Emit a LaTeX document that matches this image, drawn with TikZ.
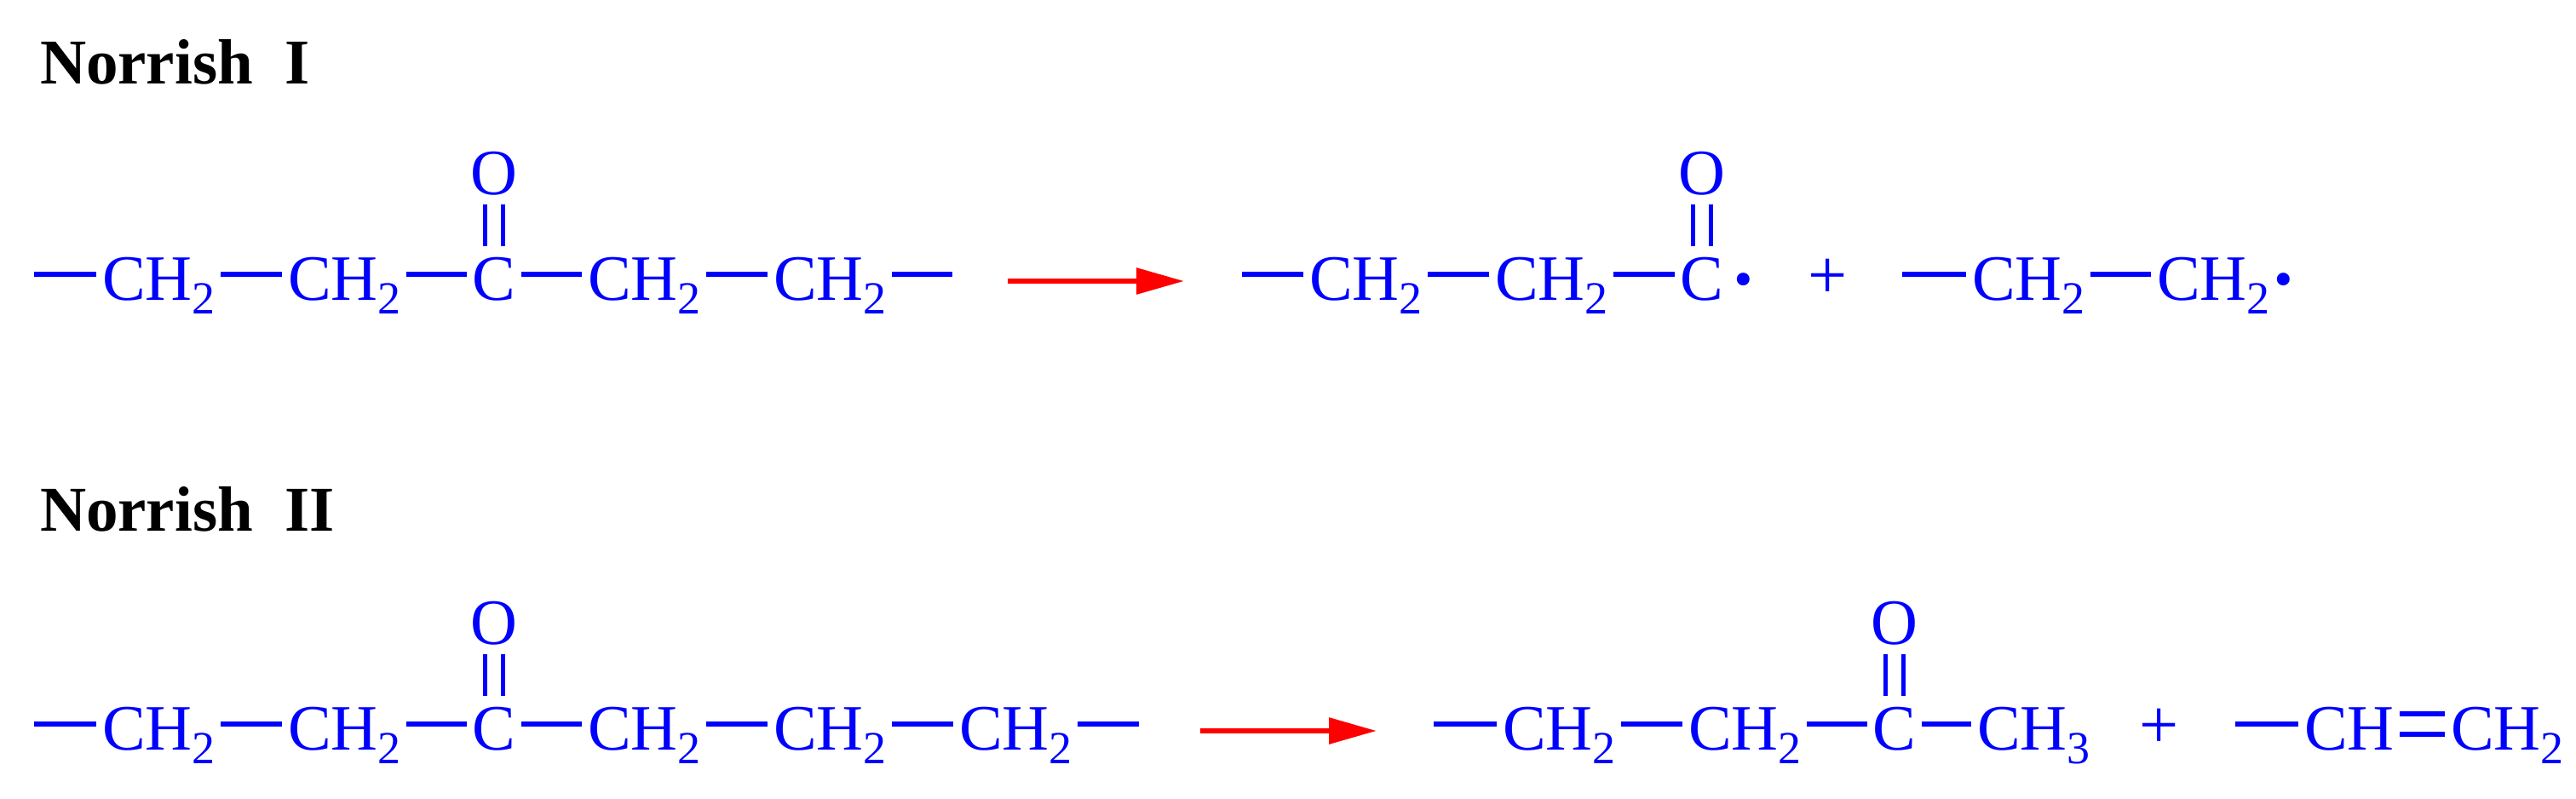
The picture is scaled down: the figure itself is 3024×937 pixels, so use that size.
\documentclass[tikz,border=0pt]{standalone}
\usepackage{fontspec}
\setmainfont{Liberation Serif}
\usetikzlibrary{arrows.meta}
\definecolor{chemblue}{RGB}{0,0,255}
\definecolor{arrowred}{RGB}{255,0,0}
\newcommand{\sbs}[1]{\raisebox{-8pt}{\fontsize{27pt}{27pt}\selectfont #1}}
\newcommand{\CHtwo}{CH\sbs{2}}
\newcommand{\bnd}[2]{\draw[bond] ([yshift=15pt]#1.base east) -- ([yshift=15pt]#2.base west);}
\newcommand{\dblO}[2]{%
  \draw[oxo] ([xshift=-5.25pt]#1.base) -- ([xshift=-5.25pt,yshift=26pt]#2.base);
  \draw[oxo] ([xshift=5.25pt]#1.base) -- ([xshift=5.25pt,yshift=26pt]#2.base);}
\tikzset{
  atom/.style={inner sep=0pt,outer sep=0pt,text=chemblue,anchor=base west,font=\fontsize{38pt}{38pt}\selectfont},
  atomc/.style={atom,anchor=base},
  plussign/.style={atomc,font=\fontsize{41pt}{41pt}\selectfont},
  title/.style={inner sep=0pt,outer sep=0pt,anchor=base west,text=black,font=\fontsize{37.5pt}{38pt}\selectfont\bfseries},
  bond/.style={draw=chemblue,line width=3pt,shorten <=3.3pt,shorten >=3.3pt},
  oxo/.style={draw=chemblue,line width=2.3pt,shorten <=6pt,shorten >=5.5pt},
  react/.style={draw=arrowred,line width=3pt,-{Triangle[length=28pt,width=15pt,fill=arrowred]}},
  dotmark/.style={atomc,font=\fontsize{46pt}{46pt}\selectfont\bfseries}
}
\begin{document}
\begin{tikzpicture}[x=0.5pt,y=-0.5pt]
\useasboundingbox (0,0) rectangle (3024,937);
\node[title] (t1) at (47,98) {Norrish\ \ I};
\node[title] (t2) at (47,623) {Norrish\ \ II};

% Row 1, reactant
\coordinate (s1) at (33.4,322);
\node[atom] (a1) at (120,352) {\CHtwo};
\node[atom] (a2) at (338,352) {\CHtwo};
\node[atomc] (a3) at (580,352) {C};
\node[atomc] (a3o) at (580,228) {O};
\node[atom] (a4) at (690,352) {\CHtwo};
\node[atom] (a5) at (908,352) {\CHtwo};
\coordinate (e1) at (1124.6,322);
\draw[bond] (s1) -- ([yshift=15pt]a1.base west);
\bnd{a1}{a2}\bnd{a2}{a3}\bnd{a3}{a4}\bnd{a4}{a5}
\draw[bond] ([yshift=15pt]a5.base east) -- (e1);
\dblO{a3o}{a3}

% Row 1, arrow
\coordinate (r1s) at (1183,330);
\coordinate (r1e) at (1390,330);
\draw[react] (r1s) -- (r1e);

% Row 1, products
\coordinate (s2) at (1451.4,322);
\node[atom] (b1) at (1537,352) {\CHtwo};
\node[atom] (b2) at (1755,352) {\CHtwo};
\node[atomc] (b3) at (1998,352) {C};
\node[atomc] (b3o) at (1998,228) {O};
\node[dotmark] (b4) at (2047,358) {·};
\node[plussign] (p1) at (2146,350) {+};
\coordinate (s3) at (2226.4,322);
\node[atom] (c1) at (2315,352) {\CHtwo};
\node[atom] (c2) at (2532,352) {\CHtwo};
\node[dotmark] (c3) at (2681,358) {·};
\draw[bond] (s2) -- ([yshift=15pt]b1.base west);
\bnd{b1}{b2}\bnd{b2}{b3}
\dblO{b3o}{b3}
\draw[bond] (s3) -- ([yshift=15pt]c1.base west);
\bnd{c1}{c2}

% Row 2, reactant
\coordinate (s4) at (33.4,850);
\node[atom] (d1) at (120,880) {\CHtwo};
\node[atom] (d2) at (338,880) {\CHtwo};
\node[atomc] (d3) at (580,880) {C};
\node[atomc] (d3o) at (580,756) {O};
\node[atom] (d4) at (690,880) {\CHtwo};
\node[atom] (d5) at (908,880) {\CHtwo};
\node[atom] (d6) at (1126,880) {\CHtwo};
\coordinate (e2) at (1343.6,850);
\draw[bond] (s4) -- ([yshift=15pt]d1.base west);
\bnd{d1}{d2}\bnd{d2}{d3}\bnd{d3}{d4}\bnd{d4}{d5}\bnd{d5}{d6}
\draw[bond] ([yshift=15pt]d6.base east) -- (e2);
\dblO{d3o}{d3}

% Row 2, arrow
\coordinate (r2s) at (1409,858);
\coordinate (r2e) at (1616,858);
\draw[react] (r2s) -- (r2e);

% Row 2, products
\coordinate (s5) at (1676.4,850);
\node[atom] (f1) at (1764,880) {\CHtwo};
\node[atom] (f2) at (1982,880) {\CHtwo};
\node[atomc] (f3) at (2224,880) {C};
\node[atomc] (f3o) at (2224,756) {O};
\node[atom] (f4) at (2321,880) {CH\sbs{3}};
\node[plussign] (p2) at (2535,878) {+};
\coordinate (s6) at (2617.4,850);
\node[atom] (g1) at (2705,880) {CH};
\node[atom] (g2) at (2877,880) {\CHtwo};
\draw[bond] (s5) -- ([yshift=15pt]f1.base west);
\bnd{f1}{f2}\bnd{f2}{f3}\bnd{f3}{f4}
\dblO{f3o}{f3}
\draw[bond] (s6) -- ([yshift=15pt]g1.base west);
\draw[bond] ([yshift=21pt]g1.base east) -- ([yshift=21pt]g2.base west);
\draw[bond] ([yshift=9pt]g1.base east) -- ([yshift=9pt]g2.base west);
\end{tikzpicture}
\end{document}
